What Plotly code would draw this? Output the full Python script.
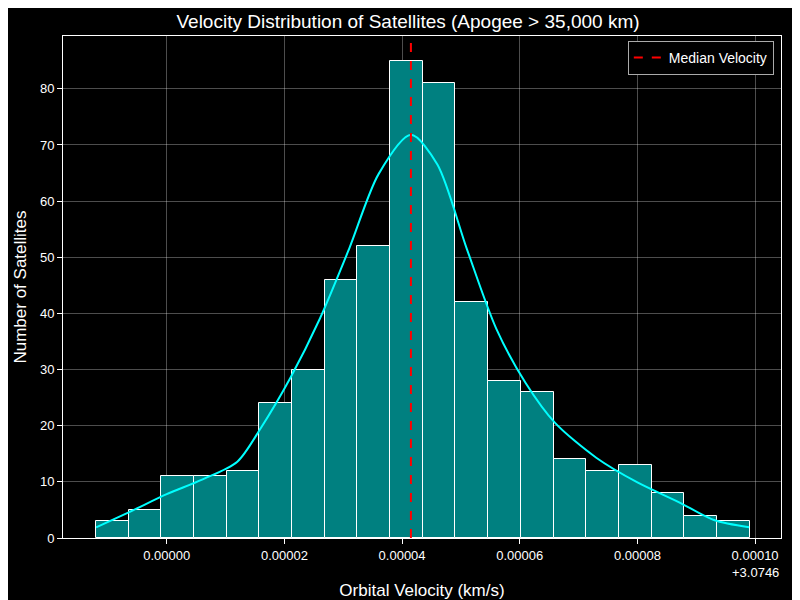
import numpy as np
import plotly.graph_objects as go

OFFSET = 3.0746
bin_start = -1.203e-5
bin_width = 5.555e-6
counts = [3, 5, 11, 11, 12, 24, 30, 46, 52, 85, 81, 42, 28, 26, 14, 12, 13, 8, 4, 3]
median_v = 4.15e-5

kde_x = [-1.2e-5, -0.6e-5, 0.0, 0.6e-5, 1.2e-5, 1.6e-5, 2.1e-5, 2.6e-5, 3.1e-5, 3.6e-5,
         4.15e-5, 4.6e-5, 5.1e-5, 5.6e-5, 6.1e-5, 6.6e-5, 7.3e-5, 8.0e-5, 8.7e-5, 9.3e-5, 9.9e-5]
kde_y = [1.9, 4.8, 7.8, 10.4, 13.6, 19.6, 28.5, 39.0, 51.5, 64.8,
         71.8, 66.5, 51.5, 37.3, 27.6, 20.5, 14.3, 9.9, 6.4, 3.2, 1.9]

centers = bin_start + bin_width * (np.arange(len(counts)) + 0.5)

fig = go.Figure()
fig.add_trace(go.Bar(x=centers, y=counts, width=bin_width, marker_color="#008080",
                     marker_line_color="white", marker_line_width=1, showlegend=False))
fig.add_trace(go.Scatter(x=kde_x, y=kde_y, mode="lines", line=dict(color="cyan", width=2, shape="spline", smoothing=0.8),
                         showlegend=False))
fig.add_trace(go.Scatter(x=[median_v, median_v], y=[0, 89.4], mode="lines", name="Median Velocity",
                         line=dict(color="red", width=2, dash="dash")))

axis = dict(showline=True, linecolor="white", mirror=True, gridcolor="rgba(255,255,255,0.3)",
            zeroline=False, ticks="outside", tickcolor="white", color="white", tickfont=dict(size=13))
fig.update_layout(
    width=800, height=600, paper_bgcolor="black", plot_bgcolor="black",
    font=dict(family="Liberation Sans, Arial", color="white"),
    margin=dict(l=53, r=27, t=28, b=67), bargap=0,
    title=dict(text="Velocity Distribution of Satellites (Apogee > 35,000 km)", x=0.5, y=0.978,
               xanchor="center", yanchor="middle", font=dict(size=19)),
    xaxis=dict(axis, range=[-1.763e-5, 1.044e-4], tickvals=[0, 2e-5, 4e-5, 6e-5, 8e-5, 1e-4],
               ticktext=["0.00000", "0.00002", "0.00004", "0.00006", "0.00008", "0.00010"],
               title=dict(text="Orbital Velocity (km/s)", font=dict(size=17), standoff=22)),
    yaxis=dict(axis, range=[0, 89.4], dtick=10,
               title=dict(text="Number of Satellites", font=dict(size=17), standoff=8)),
    legend=dict(x=0.99, y=0.99, xanchor="right", yanchor="top", bgcolor="black",
                bordercolor="#aaaaaa", borderwidth=1, font=dict(size=14)),
    annotations=[dict(text="+3.0746", xref="paper", yref="paper", x=1, y=-0.05,
                      xanchor="right", yanchor="top", showarrow=False, font=dict(size=13))],
)
fig.write_html("out.html")
